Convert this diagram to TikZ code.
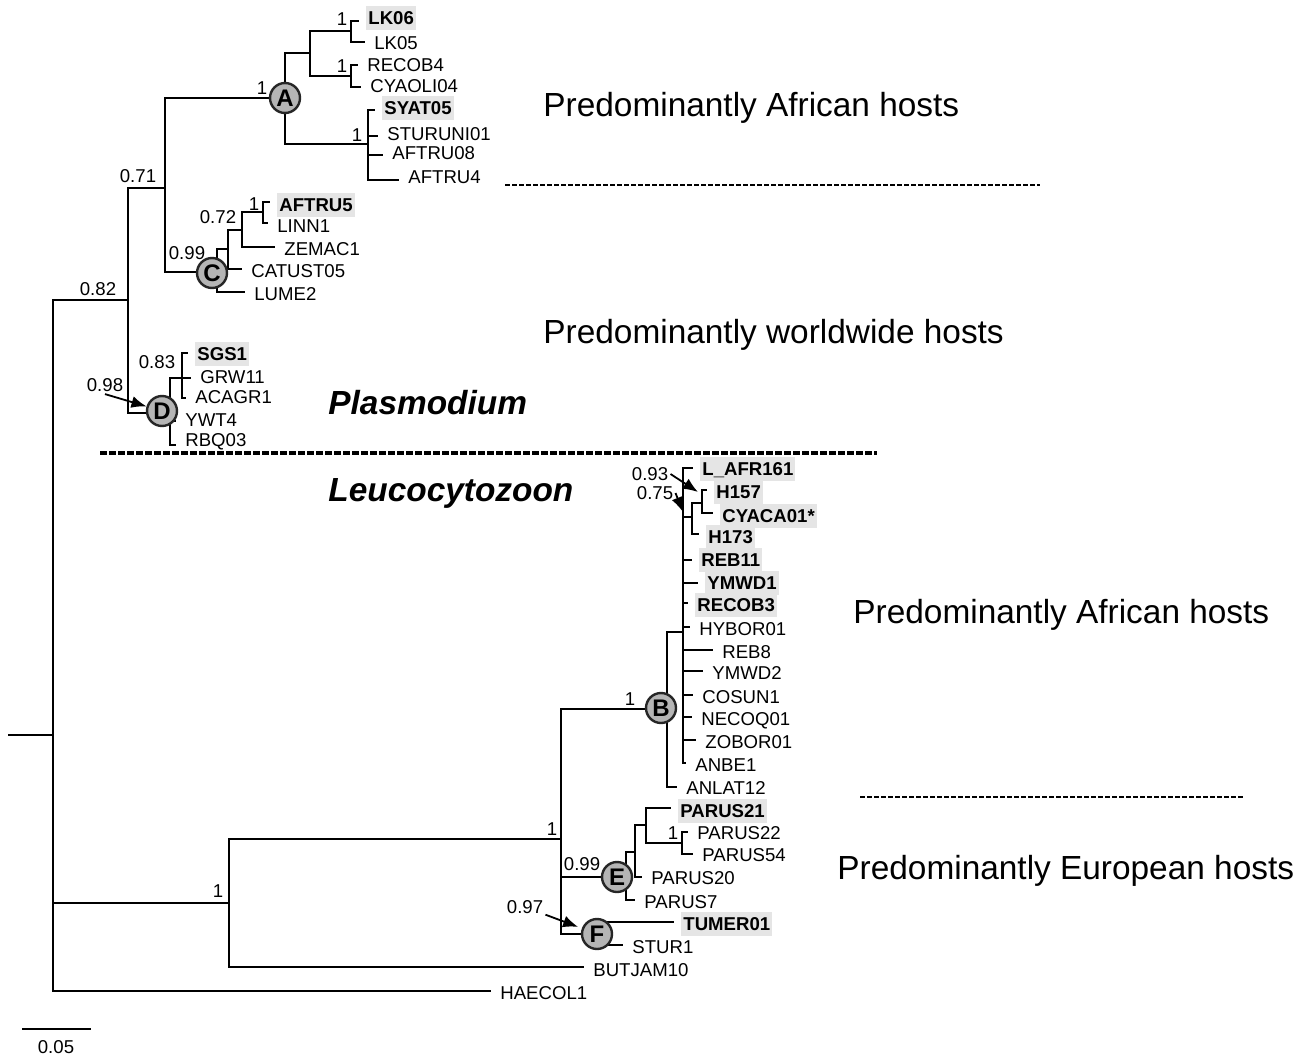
\documentclass[tikz,border=0pt]{standalone}
\usepackage{fontspec}
\setmainfont{Liberation Sans}
\usepackage{tikz}
\usetikzlibrary{arrows.meta}
\tikzset{
  branch/.style={line width=0.9pt},
  leaf/.style={anchor=west, xshift=3.5pt, inner xsep=1pt, inner ysep=2.6pt,
    text height=6.7pt, text depth=0pt, font=\fontsize{9.3}{11}\selectfont},
  hl/.style={leaf, fill=gray!20, font=\fontsize{9.3}{11}\selectfont\bfseries},
  supp/.style={inner sep=1pt, text height=6.7pt, text depth=0pt, font=\fontsize{9.3}{11}\selectfont},
  clade/.style={circle, draw=black!85, line width=1.2pt, fill=gray!58, minimum size=15pt,
    inner sep=0pt, font=\fontsize{12}{13}\selectfont\bfseries},
  host/.style={anchor=base west, inner sep=0pt, font=\fontsize{16.7}{20}\selectfont},
  genus/.style={host, font=\fontsize{16.7}{20}\selectfont\bfseries\itshape},
  pointer/.style={-{Latex[length=7.5pt,width=6pt]}, line width=0.9pt},
}

\begin{document}
\begin{tikzpicture}[x=0.5pt,y=-0.5pt]
\useasboundingbox (0,0) rectangle (1309,1059);

% inner nodes of the tree
\coordinate (r0) at (8,735);   \coordinate (r) at (53,735);
\coordinate (n82) at (128,300); \coordinate (n71) at (165,188);
\coordinate (A) at (285,98);   \coordinate (a1) at (310,53);
\coordinate (a11) at (351,31); \coordinate (a12) at (351,76);
\coordinate (a2) at (368,144);
\coordinate (C) at (217,272);  \coordinate (c1) at (228,249);
\coordinate (c2) at (242,230); \coordinate (c3) at (263,212);
\coordinate (D) at (170,413);  \coordinate (d1) at (182,378);
\coordinate (n1) at (229,903); \coordinate (L) at (561,839);
\coordinate (B) at (667,709);  \coordinate (b1) at (683,632);
\coordinate (b2) at (692,517); \coordinate (b3) at (702,503);
\coordinate (E) at (626,877);  \coordinate (e1) at (635,852);
\coordinate (e2) at (646,825); \coordinate (e3) at (682,843);
\coordinate (F) at (600,934);

% leaves: name / tip x / tip y / label y
\foreach \n/\x/\y/\ly in {LK05/365/42/43, RECOB4/358/65/65, CYAOLI04/361/87/86,
  STURUNI01/378/136/134, AFTRU08/383/155/153, AFTRU4/399/180/177, LINN1/268/223/226,
  ZEMAC1/275/247/249, CATUST05/242/269/271, LUME2/245/292/294, GRW11/191/378/377,
  ACAGR1/186/398/397, YWT4/176/421/420, RBQ03/176/445/440,
  HYBOR01/690/627/629, REB8/713/650/652, YMWD2/703/671/673, COSUN1/693/695/697,
  NECOQ01/692/717/719, ZOBOR01/696/740/742, ANBE1/686/763/765, ANLAT12/677/787/788,
  PARUS22/688/832/833, PARUS54/693/854/855, PARUS20/642/877/878, PARUS7/635/900/902,
  STUR1/623/945/947, BUTJAM10/584/967/970, HAECOL1/491/991/993}
  {\coordinate (\n) at (\x,\y); \node[leaf] (l\n) at (\x,\ly) {\n};}
\foreach \n/\x/\y/\ly/\t in {LK06/359/21/18/LK06, SYAT05/375/110/108/SYAT05,
  AFTRU5/270/202/205/AFTRU5, SGS1/188/353/354/SGS1, LAFR161/693/468/469/L\_AFR161,
  H157/707/490/492/H157, CYACA01/713/513/516/CYACA01*, H173/699/534/537/H173,
  REB11/692/560/560/REB11, YMWD1/698/583/583/YMWD1, RECOB3/688/603/605/RECOB3,
  PARUS21/671/808/811/PARUS21, TUMER01/674/922/924/TUMER01}
  {\coordinate (\n) at (\x,\y); \node[hl] (l\n) at (\x,\ly) {\t};}

% branches
\draw[branch] (r0) -- (r);
\foreach \p/\c in {r/n82, r/n1, r/HAECOL1, n82/n71, n82/D, n71/A, n71/C,
  A/a1, A/a2, a1/a11, a1/a12, a11/LK06, a11/LK05, a12/RECOB4, a12/CYAOLI04,
  a2/SYAT05, a2/STURUNI01, a2/AFTRU08, a2/AFTRU4,
  C/c1, C/LUME2, c1/c2, c1/CATUST05, c2/c3, c2/ZEMAC1, c3/AFTRU5, c3/LINN1,
  D/d1, D/YWT4, D/RBQ03, d1/SGS1, d1/GRW11, d1/ACAGR1,
  n1/L, n1/BUTJAM10, L/B, L/E, L/F, B/b1, B/ANLAT12,
  b1/LAFR161, b1/b2, b1/REB11, b1/YMWD1, b1/RECOB3, b1/HYBOR01, b1/REB8, b1/YMWD2,
  b1/COSUN1, b1/NECOQ01, b1/ZOBOR01, b1/ANBE1, b2/b3, b2/H173, b3/H157, b3/CYACA01,
  E/e1, E/PARUS7, e1/e2, e1/PARUS20, e2/PARUS21, e2/e3, e3/PARUS22, e3/PARUS54,
  F/TUMER01, F/STUR1}
  \draw[branch] (\p) |- (\c);

% clade markers
\foreach \n/\x/\y in {A/285/98, B/661/708, C/212/273, D/162/411, E/617/877, F/597/934}
  \node[clade] (c\n) at (\x,\y) {\n};

% support values
\foreach \n/\x/\y/\t in {sA/262/88/1, sLK/342/19/1, sRE/342/66/1, sST/357/135/1,
  s071/138/176/0.71, s082/98/289/0.82, s072/218/217/0.72, sAF/254/204/1, sC/187/253/0.99,
  s083/157/362/0.83, s098/105/385/0.98, s093/650/474/0.93, s075/655/493/0.75,
  sB/630/699/1, sL/552/829/1, sN1/218/891/1, sE/582/864/0.99, sPA/673/833/1, s097/525/907/0.97}
  \node[supp] (\n) at (\x,\y) {\t};

\draw[pointer] (s098.south) -- (cD);
\draw[pointer] (s093.east) -- ([shift={(-4,-11)}]b3);
\draw[pointer] (s075.east) -- ([shift={(-9,-5)}]b2);
\draw[pointer, shorten >=2pt] (s097) -- (cF);

% separators and host labels
\draw[line width=2pt, dash pattern=on 3.5pt off 1pt] (100,453) -- (877,453);
\draw[line width=0.6pt, dash pattern=on 2.5pt off 1pt] (505,185) -- (1040,185);
\draw[line width=0.6pt, dash pattern=on 2.5pt off 1pt] (860,797) -- (1245,797);

\node[host] (h1) at (543,117) {Predominantly African hosts};
\node[host] (h2) at (543,343) {Predominantly worldwide hosts};
\node[genus] (plas) at (328,414) {Plasmodium};
\node[genus] (leuc) at (328,501) {Leucocytozoon};
\node[host] (h3) at (853,623) {Predominantly African hosts};
\node[host] (h4) at (837,879) {Predominantly European hosts};

% scale bar
\draw[branch] (22,1029) -- (91,1029);
\node[supp] (scale) at (56,1047) {0.05};
\end{tikzpicture}
\end{document}
